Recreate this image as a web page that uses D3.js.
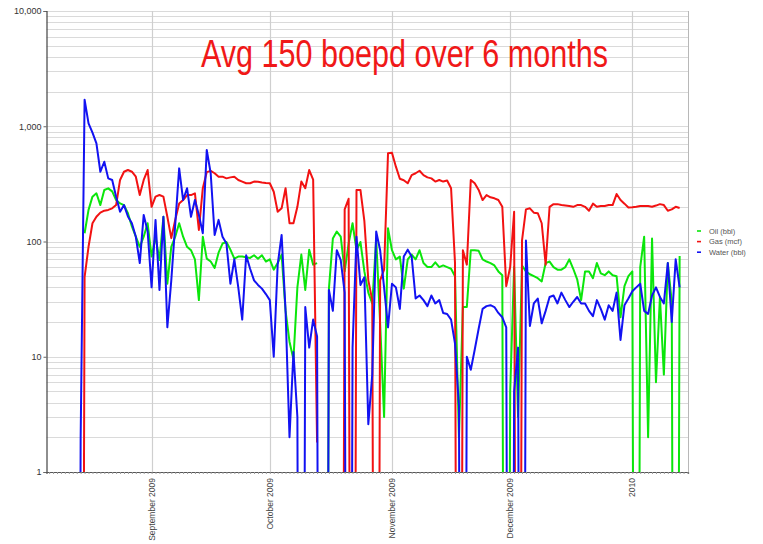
<!DOCTYPE html>
<html>
<head>
<meta charset="utf-8">
<script src="https://cdn.jsdelivr.net/npm/d3@7"></script>
<style>
  body { margin: 0; background: #fff; }
  svg { display: block; }
</style>
</head>
<body>
<div id="chart"></div>
<script>
// --- data: one reading per day, 13 Aug 2009 .. 13 Jan 2010 (null = no reading, 0 = shut in) ---
const firstDay = new Date(2009, 7, 13);
const lastDay = new Date(2010, 0, 13);

const oil = [
  null, null, 118, 188, 245, 262, 207, 280, 289, 272,
  229, 214, 207, 176, 135, 110, 90, 110, 144, 74,
  110, 69, 164, 43, 90, 110, 144, 110, 90, 84,
  70, 31, 110, 71, 67, 59, 80, 96, 99, 85,
  71, 74, 74, 73, 72, 76, 71, 76, 67, 70,
  57, 65, 77, 25, 13.5, 9.5, 40, 77, 38, 85,
  63, 65, null, 0, 39, 106, 122, 110, 55, 96,
  144, 84, 99, 55, 36, 29, 106, 19.5, 3, 130,
  84, 70, 74, 39, 70, 77, 70, 84, 65, 60,
  60, 66, 60, 62, 60, 58, 50, 2, 27, 27,
  84, 84, 83, 70, 67, 65, 62, 55, 51, 0,
  5, 60, 3, 62, 55, 52, 50, 48, 45, 65,
  67, 60, 57, 57, 60, 70, 58, 47, 31, 55,
  55, 48, 65, 53, 51, 55, 51, 50, 22, 41,
  50, 55, 0, 60, 110, 2, 106, 6, 33, 7,
  65, 30, 0, 75
];

const gas = [
  null, 0, 49, 90, 144, 164, 178, 185, 188, 194,
  207, 342, 403, 417, 403, 365, 253, 342, 417, 200,
  245, 253, 245, 164, 107, 154, 214, 229, 253, 253,
  262, 126, 290, 400, 410, 391, 365, 365, 353, 360,
  365, 342, 331, 320, 320, 331, 330, 325, 322, 320,
  270, 181, 194, 290, 144, 144, 200, 331, 290, 417,
  345, 1.8, null, null, null, null, null, 0, 190, 235,
  0, 280, 280, 150, 46, 31, 0, 46, 57, 582,
  590, 446, 350, 340, 320, 377, 391, 411, 377, 360,
  353, 331, 342, 331, 338, 290, 65, 0, 84, 63,
  342, 320, 280, 229, 253, 242, 237, 229, 200, 41,
  60, 181, 0, 102, 190, 194, 178, 176, 144, 63,
  200, 211, 211, 207, 205, 203, 200, 207, 207, 200,
  185, 213, 200, 203, 203, 207, 207, 258, 229, 213,
  197, 198, 200, 203, 203, 203, 200, 205, 211, 207,
  185, 190, 200, 195
];

const water = [
  0, 2, 1700, 1060, 880, 710, 403, 492, 353, 342,
  245, 181, 207, 165, 144, 110, 65, 170, 122, 40,
  154, 38, 164, 18, 46, 140, 431, 229, 290, 164,
  229, 170, 118, 622, 391, 114, 154, 110, 96, 43,
  70, 40, 21, 76, 58, 46, 42, 39, 35, 31,
  10, 63, 114, 25, 2, 11, 3, 0, 27, 12,
  21, 15, 0, 0, 38, 25, 84, 69, 36, 0,
  12, 110, 42, 49, 2.6, 7, 122, 84, 40, 18,
  43, 40, 26, 74, 85, 74, 32, 34, 31, 27.5,
  34, 29, 31, 24, 23.5, 21, 13, 3.7, 0, 10,
  7.7, 11.5, 17.5, 26, 27.5, 28, 27, 24, 22, 18,
  0, 5, 12, 0, 102, 18.5, 29, 32, 19.5, 25,
  33, 34, 29, 36, 31, 27, 30, 33, 29, 29,
  25, 22.5, 31, 26, 21, 28, 25, 36, 14, 28,
  32, 37, 40, 43, 25, 23.5, 34, 40, 33, 29,
  65, 20, 70, 40
];

const seriesNames = ["Oil (bbl)", "Gas (mcf)", "Water (bbl)"];
const seriesColors = ["#0be60b", "#f21212", "#1212f2"];

const monthDates = [new Date(2009, 8, 1), new Date(2009, 9, 1), new Date(2009, 10, 1), new Date(2009, 11, 1), new Date(2010, 0, 1)];
const monthLabels = ["September 2009", "October 2009", "November 2009", "December 2009", "2010"];
const yLabelValues = [1, 10, 100, 1000, 10000];
const title = "Avg 150 boepd over 6 months";

// --- layout ---
const width = 763, height = 544;
const plot = { left: 46.5, right: 688, top: 11, bottom: 472 };

const dates = d3.timeDay.range(firstDay, d3.timeDay.offset(lastDay, 1));

const x = d3.scaleTime()
  .domain([new Date(2009, 7, 5, 8), new Date(2010, 0, 15, 3)])
  .range([plot.left, plot.right]);

const y = d3.scaleLog()
  .domain([1, 10000])
  .range([plot.bottom, plot.top]);

const svg = d3.select("#chart").append("svg")
  .attr("width", width)
  .attr("height", height)
  .style("font-family", "'Liberation Sans', Arial, sans-serif");

svg.append("defs").append("clipPath").attr("id", "plot-clip")
  .append("rect")
  .attr("x", plot.left)
  .attr("y", plot.top)
  .attr("width", plot.right - plot.left)
  .attr("height", plot.bottom - plot.top);

// horizontal grid (every 1..9 of each decade)
svg.append("g").attr("class", "y-grid")
  .selectAll("line")
  .data(y.ticks())
  .join("line")
  .attr("x1", plot.left)
  .attr("x2", plot.right)
  .attr("y1", d => Math.round(y(d)) + 0.5)
  .attr("y2", d => Math.round(y(d)) + 0.5)
  .attr("stroke", "#dadada")
  .attr("stroke-width", 1.2);

// vertical grid at month starts
svg.append("g").attr("class", "x-grid")
  .selectAll("line")
  .data(monthDates)
  .join("line")
  .attr("x1", d => Math.round(x(d)) + 0.5)
  .attr("x2", d => Math.round(x(d)) + 0.5)
  .attr("y1", plot.top)
  .attr("y2", plot.bottom)
  .attr("stroke", "#cfcfcf")
  .attr("stroke-width", 1.2);

// right border
svg.append("line")
  .attr("x1", plot.right + 0.5).attr("x2", plot.right + 0.5)
  .attr("y1", plot.top).attr("y2", plot.bottom)
  .attr("stroke", "#b8b8b8");

// series lines (zero readings fall far below the axis and get clipped)
const line = d3.line()
  .defined(d => d.v != null)
  .x(d => x(d.date))
  .y(d => y(Math.max(d.v, 1e-9)));

const seriesValues = [oil, gas, water];
svg.append("g").attr("clip-path", "url(#plot-clip)")
  .selectAll("path")
  .data(seriesValues.map((vals, i) => ({
    color: seriesColors[i],
    points: dates.map((date, j) => ({ date, v: vals[j] }))
  })))
  .join("path")
  .attr("fill", "none")
  .attr("stroke", d => d.color)
  .attr("stroke-width", 2)
  .attr("stroke-linejoin", "round")
  .attr("d", d => line(d.points));

// y axis
const yAxis = svg.append("g")
  .attr("transform", `translate(${plot.left},0)`)
  .call(d3.axisLeft(y).tickValues(yLabelValues).tickFormat(d3.format(",")).tickSize(3).tickPadding(2));
yAxis.select(".domain").attr("stroke", "#444").attr("stroke-width", 1.2);
yAxis.selectAll(".tick line").attr("stroke", "#666");
yAxis.selectAll(".tick text").attr("fill", "#333").attr("font-size", 9)
  .attr("font-family", "'Liberation Sans', Arial, sans-serif");

// x axis: daily minor ticks
const xAxis = svg.append("g")
  .attr("transform", `translate(0,${plot.bottom})`)
  .call(d3.axisBottom(x).ticks(d3.timeDay).tickSize(2).tickFormat(""));
xAxis.select(".domain").attr("stroke", "#555").attr("stroke-width", 1.2);
xAxis.selectAll(".tick line").attr("stroke", "#999");

// month labels, rotated
svg.append("g").attr("class", "month-labels")
  .selectAll("text")
  .data(monthDates)
  .join("text")
  .attr("transform", d => `translate(${x(d)},${plot.bottom + 6}) rotate(-90)`)
  .attr("text-anchor", "end")
  .attr("dy", "0.35em")
  .attr("font-size", 8.5)
  .attr("fill", "#444")
  .text((d, i) => monthLabels[i]);

// legend
const legend = svg.append("g").attr("transform", "translate(697,231)");
seriesNames.forEach((name, i) => {
  const row = legend.append("g").attr("transform", `translate(0,${i * 10.6})`);
  row.append("line")
    .attr("x1", 0).attr("x2", 4)
    .attr("y1", 0).attr("y2", 0)
    .attr("stroke", seriesColors[i])
    .attr("stroke-width", 1.6);
  row.append("text")
    .attr("x", 12)
    .attr("dy", "0.35em")
    .attr("font-size", 7.5)
    .attr("fill", "#555")
    .text(name);
});

// title (narrow face squeezed to the original width)
svg.append("text")
  .attr("x", 201)
  .attr("y", 67)
  .attr("font-family", "'Liberation Sans', Arial, sans-serif")
  .attr("font-size", 38)
  .attr("fill", "#f01818")
  .attr("textLength", 407)
  .attr("lengthAdjust", "spacingAndGlyphs")
  .text(title);
</script>
</body>
</html>
